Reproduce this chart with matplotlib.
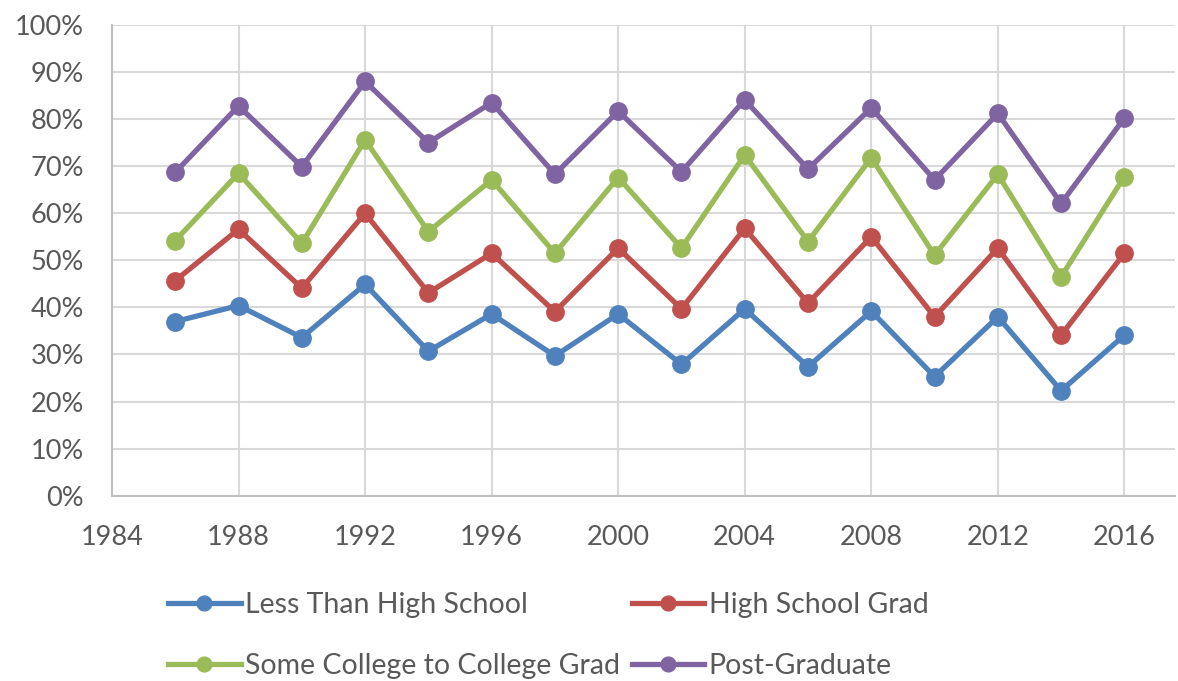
import matplotlib
matplotlib.use("Agg")
import matplotlib.pyplot as plt
from matplotlib.ticker import PercentFormatter

# data (percent)
years = [1986, 1988, 1990, 1992, 1994, 1996, 1998, 2000,
         2002, 2004, 2006, 2008, 2010, 2012, 2014, 2016]
less_than_hs = [37.0, 40.4, 33.6, 44.9, 30.7, 38.6, 29.7, 38.6,
                27.9, 39.7, 27.4, 39.2, 25.3, 38.0, 22.3, 34.1]
hs_grad = [45.7, 56.6, 44.1, 60.0, 43.1, 51.5, 39.1, 52.6,
           39.7, 56.8, 40.9, 55.0, 38.0, 52.6, 34.1, 51.5]
some_college = [54.2, 68.5, 53.6, 75.6, 56.1, 67.1, 51.5, 67.6,
                52.6, 72.4, 54.0, 71.8, 51.1, 68.3, 46.5, 67.8]
post_grad = [68.7, 82.8, 69.9, 88.0, 75.0, 83.5, 68.3, 81.7,
             68.8, 84.1, 69.4, 82.4, 67.1, 81.2, 62.1, 80.2]

series = [
    ("Less Than High School", less_than_hs, "#4F81BD"),
    ("High School Grad", hs_grad, "#C0504D"),
    ("Some College to College Grad", some_college, "#9BBB59"),
    ("Post-Graduate", post_grad, "#8064A2"),
]

plt.rcParams["font.family"] = ["Lato", "DejaVu Sans"]
text_color = "#595959"

fig = plt.figure(figsize=(11.78, 6.81), dpi=100)
ax = fig.add_axes([112 / 1178, 1 - 495.7 / 681, (1175 - 112) / 1178, (495.7 - 25) / 681])

lines = {}
for name, vals, color in series:
    (ln,) = ax.plot(years, vals, color=color, lw=3.8, marker="o", ms=12.5,
                    label=name, zorder=3)
    lines[name] = ln

ax.set_xlim(1984, 2017.6)
ax.set_ylim(0, 100)
ax.set_xticks(range(1984, 2017, 4))
ax.set_yticks(range(0, 101, 10))
ax.yaxis.set_major_formatter(PercentFormatter(decimals=0))
ax.grid(True, color="#D9D9D9", lw=1.5)
ax.set_axisbelow(True)
for s in ["top", "right"]:
    ax.spines[s].set_visible(False)
for s in ["left", "bottom"]:
    ax.spines[s].set_color("#BFBFBF")
    ax.spines[s].set_linewidth(1.5)
ax.tick_params(length=0, labelsize=19.5, colors=text_color)
ax.tick_params(axis="y", pad=20)
ax.tick_params(axis="x", pad=21)

order = ["Less Than High School", "Some College to College Grad",
         "High School Grad", "Post-Graduate"]
leg = fig.legend([lines[n] for n in order], order, ncol=2, loc="upper left",
                 bbox_to_anchor=(168 / 1178, 1 - 592 / 681), frameon=False,
                 fontsize=20.5, handlelength=2.55, handletextpad=0.15,
                 columnspacing=0.42, labelspacing=1.22, borderpad=0,
                 borderaxespad=0, markerscale=0.85)
for t in leg.get_texts():
    t.set_color(text_color)

fig.savefig("out.png", dpi=100)
